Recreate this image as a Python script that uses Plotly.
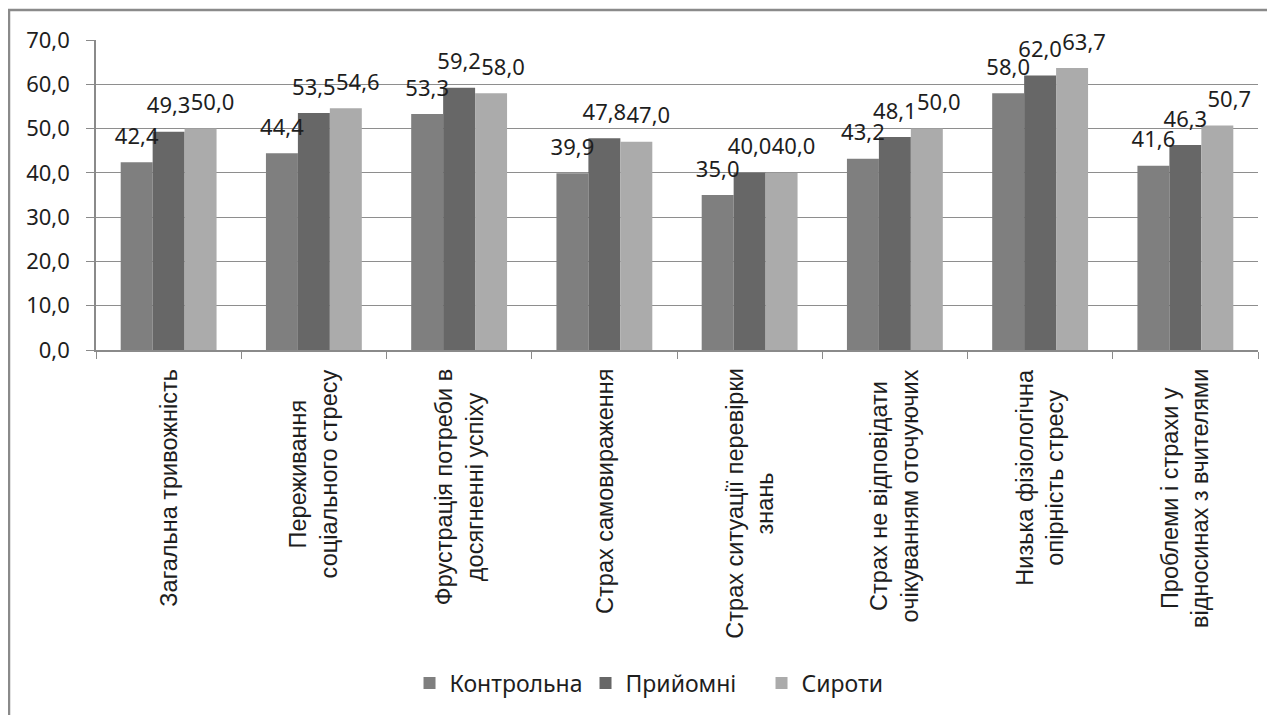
import plotly.graph_objects as go

categories = [
    "Загальна тривожність",
    "Переживання<br>соціального стресу",
    "Фрустрація потреби в<br>досягненні успіху",
    "Страх самовираження",
    "Страх ситуації перевірки<br>знань",
    "Страх не відповідати<br>очікуванням оточуючих",
    "Низька фізіологічна<br>опірність стресу",
    "Проблеми і страхи у<br>відносинах з вчителями",
]
series_names = ["Контрольна", "Прийомні", "Сироти"]
kontrolna = [42.4, 44.4, 53.3, 39.9, 35.0, 43.2, 58.0, 41.6]
pryiomni = [49.3, 53.5, 59.2, 47.8, 40.0, 48.1, 62.0, 46.3]
syroty = [50.0, 54.6, 58.0, 47.0, 40.0, 50.0, 63.7, 50.7]
series_values = [kontrolna, pryiomni, syroty]
colors = ["#7f7f7f", "#676767", "#ababab"]
y_ticks = [0, 10, 20, 30, 40, 50, 60, 70]

x_keys = [f"c{i}" for i in range(len(categories))]
calibri_like = "Noto Sans, Open Sans, sans-serif"
txt_color = "#1e1e1e"

# plot area in figure pixels (page has an 8px body margin)
L, T, R, B = 88, 32, 1250, 342
PW, PH = R - L, B - T
BARGAP = 0.34
cat_px = PW / len(categories)

fig = go.Figure()
for name, vals, col in zip(series_names, series_values, colors):
    fig.add_trace(go.Bar(
        x=x_keys, y=vals, name=name, marker=dict(color=col, line=dict(width=0)),
        offsetgroup=name, hoverinfo="skip",
    ))


def label_trace(vals, xaxis="x", group=None):
    return go.Scatter(
        x=x_keys, y=vals, mode="markers+text", showlegend=False,
        offsetgroup=group, xaxis=xaxis,
        marker=dict(size=19, opacity=0, color="white"),
        text=[f"{v:.1f}".replace(".", ",") for v in vals],
        textposition="top center",
        textfont=dict(family=calibri_like, size=22, color=txt_color),
        cliponaxis=False, hoverinfo="skip",
    )


# labels of the first two series sit centred over their bars
fig.add_trace(label_trace(kontrolna, "x", series_names[0]))
fig.add_trace(label_trace(pryiomni, "x", series_names[1]))
fig.add_trace(label_trace(syroty, "x", series_names[2]))
fig.data[-1].visible = False
# labels of the third series are nudged a little to the right (as in the reference)
fig.add_trace(label_trace(syroty, "x2"))

for key, label in zip(x_keys, categories):
    fig.add_annotation(
        x=key, xref="x", y=-17 / PH, yref="paper", text=label, showarrow=False,
        textangle=-90, xanchor="center", yanchor="top", align="center",
        font=dict(family="Liberation Sans, Arial, sans-serif", size=23.5, color=txt_color),
    )

# outer chart border
fig.add_shape(type="rect", xref="paper", yref="paper",
              x0=(1 - L) / PW, x1=2, y0=-3, y1=(B - 2) / PH,
              line=dict(color="#8a8a8a", width=2.5), fillcolor="rgba(0,0,0,0)", layer="below")

n = len(categories)
shift = (1 - BARGAP) / 3 + 12 / cat_px

fig.update_layout(
    width=1275, height=715,
    margin=dict(l=L, r=1275 - R, t=T, b=715 - B),
    paper_bgcolor="white", plot_bgcolor="white",
    barmode="group", bargap=BARGAP, bargroupgap=0,
    scattermode="group", scattergap=BARGAP,
    separators=", ",
    showlegend=True,
    legend=dict(orientation="h", x=0.497, xanchor="center", y=(B - 675) / PH, yanchor="middle",
                font=dict(family=calibri_like, size=23, color=txt_color),
                entrywidth=131, entrywidthmode="pixels", traceorder="normal"),
    xaxis=dict(
        categoryorder="array", categoryarray=x_keys, range=[-0.5, n - 0.5],
        showticklabels=False, ticks="outside", ticklen=7, tickcolor="#8a8a8a",
        tickson="boundaries", showline=True, linecolor="#8a8a8a", linewidth=1.5,
        showgrid=False, zeroline=False,
    ),
    xaxis2=dict(
        overlaying="x", categoryorder="array", categoryarray=x_keys,
        range=[-0.5 - shift, n - 0.5 - shift], visible=False,
    ),
    yaxis=dict(
        range=[0, 70], tickvals=y_ticks, tickformat=".1f",
        ticks="outside", ticklen=8, tickcolor="#8a8a8a", ticklabelstandoff=12,
        showline=True, linecolor="#8a8a8a", linewidth=1.5,
        showgrid=True, gridcolor="#8e8e8e", gridwidth=1.2, zeroline=False,
        tickfont=dict(family=calibri_like, size=22, color=txt_color),
    ),
)

fig.write_html("out.html")
